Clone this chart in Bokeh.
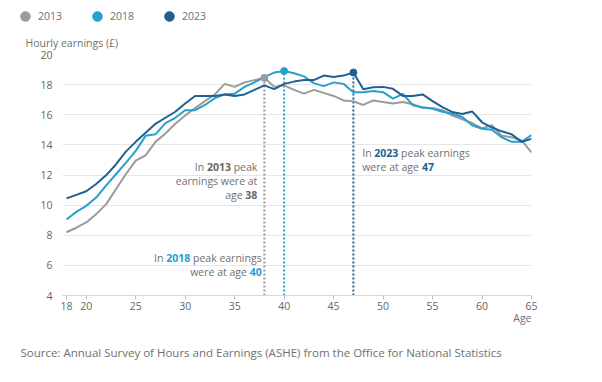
from bokeh.plotting import figure
from bokeh.layouts import column, row
from bokeh.models import Range1d, FixedTicker, Label, Legend, LegendItem, ColumnDataSource, Title
from bokeh.embed import file_html
from bokeh.resources import INLINE

# ---------------- data ----------------
ages = list(range(18, 66))
earn_2013 = [8.2, 8.5, 8.85, 9.4, 10.05, 11.05, 12.05, 12.95, 13.3, 14.2, 14.75, 15.4,
             15.95, 16.45, 16.9, 17.35, 18.05, 17.85, 18.15, 18.3, 18.45, 17.85, 17.95, 17.65,
             17.4, 17.65, 17.45, 17.25, 16.95, 16.9, 16.65, 16.95, 16.85, 16.75, 16.85, 16.7,
             16.45, 16.45, 16.3, 15.95, 15.7, 15.45, 15.1, 15.3, 14.6, 14.5, 14.3, 13.5]
earn_2018 = [9.05, 9.55, 9.95, 10.5, 11.3, 12.05, 12.8, 13.6, 14.6, 14.7, 15.45, 15.8,
             16.3, 16.3, 16.65, 17.1, 17.35, 17.4, 17.85, 18.15, 18.5, 18.8, 18.9, 18.75,
             18.55, 18.1, 17.9, 18.15, 18.05, 17.5, 17.5, 17.58, 17.5, 17.07, 17.38, 16.63,
             16.5, 16.4, 16.2, 16.07, 15.85, 15.3, 15.07, 15.0, 14.5, 14.2, 14.2, 14.65]
earn_2023 = [10.45, 10.68, 10.92, 11.4, 11.98, 12.7, 13.55, 14.2, 14.8, 15.4, 15.8, 16.2,
             16.75, 17.25, 17.25, 17.25, 17.35, 17.25, 17.35, 17.65, 17.95, 17.7, 18.05, 18.2,
             18.3, 18.3, 18.6, 18.5, 18.6, 18.8, 17.7, 17.82, 17.85, 17.72, 17.25, 17.25,
             17.35, 16.9, 16.5, 16.18, 16.05, 16.22, 15.5, 15.15, 14.9, 14.7, 14.2, 14.4]
years = ["2013", "2018", "2023"]
peak_ages = [38, 40, 47]
x_ticks = [18, 20, 25, 30, 35, 40, 45, 50, 55, 60, 65]
y_ticks = [4, 6, 8, 10, 12, 14, 16, 18, 20]

series = [earn_2013, earn_2018, earn_2023]
colors = ["#9b9b9b", "#27a0cc", "#206095"]
FONT = "Open Sans"
TXT = "#707070"
FS = "10.5px"
W = 586

peak_vals = [s[ages.index(a)] for s, a in zip(series, peak_ages)]

# ---------------- legend strip (own figure, no axes) ----------------
leg = figure(width=W, height=28, output_backend="svg", toolbar_location=None,
             x_range=Range1d(0, 1), y_range=Range1d(0, 1),
             x_axis_location=None, y_axis_location=None,
             min_border=0, min_border_left=0, min_border_right=0,
             min_border_top=0, min_border_bottom=0)
leg.grid.visible = False
leg.outline_line_color = None
leg.border_fill_color = "white"
items = []
for a, v, c, yr in zip(peak_ages, peak_vals, colors, years):
    # peak point used only as the legend's marker template (outside this strip's range)
    r = leg.scatter(x=[a], y=[v], size=7, fill_color=c, line_color=c)
    items.append(LegendItem(label=yr, renderers=[r]))
legend = Legend(items=items, orientation="horizontal", location=(13, 0),
                glyph_width=24, glyph_height=24, label_standoff=1, spacing=23,
                padding=0, margin=0, border_line_color=None, background_fill_alpha=0,
                label_text_font=FONT, label_text_font_size=FS, label_text_color=TXT)
leg.add_layout(legend)

# ---------------- main chart ----------------
p = figure(width=W, height=353, output_backend="svg", toolbar_location=None,
           x_range=Range1d(17.6, 65), y_range=Range1d(y_ticks[0], y_ticks[-1]),
           min_border_left=62, min_border_right=55, min_border_top=26, min_border_bottom=86)
p.outline_line_color = None
p.background_fill_color = "white"
p.border_fill_color = "white"

p.xaxis.ticker = FixedTicker(ticks=x_ticks)
p.yaxis.ticker = FixedTicker(ticks=y_ticks)
p.xaxis.axis_line_color = "#d9d9d9"
p.xaxis.major_tick_line_color = "#bdbdbd"
p.xaxis.major_tick_out = 4
p.xaxis.major_tick_in = 0
p.xaxis.minor_tick_line_color = None
p.xaxis.major_label_standoff = 2
p.yaxis.axis_line_color = None
p.yaxis.major_tick_line_color = None
p.yaxis.minor_tick_line_color = None
p.yaxis.major_label_standoff = 4
for ax in (p.xaxis, p.yaxis):
    ax.major_label_text_font = FONT
    ax.major_label_text_font_size = FS
    ax.major_label_text_color = "#666666"
p.xgrid.grid_line_color = None
p.ygrid.grid_line_color = "#e6e6e6"

# peak dotted lines
seg_src = ColumnDataSource(dict(x=peak_ages, y0=[y_ticks[0]] * 3, y1=peak_vals, c=colors))
p.segment(x0="x", y0="y0", x1="x", y1="y1", line_color="c", line_width=2,
          line_dash="2 2", source=seg_src)

# lines
for s, c in zip(series, colors):
    p.line(ages, s, line_color=c, line_width=2)

# peak markers
p.scatter(peak_ages, peak_vals, size=7, fill_color=colors, line_color=colors)


def lab(x, y, text, xo=0, yo=0, align="left", size=FS, color=TXT, bold=False):
    p.add_layout(Label(x=x, y=y, x_offset=xo, y_offset=yo, text=text, text_align=align,
                       text_baseline="middle", text_font=FONT, text_font_size=size,
                       text_color=color, text_font_style="bold" if bold else "normal"))


EM = 10.5
W_SPACE = 0.26 * EM
W_DIG = 0.572 * EM
W_PEAK = 2.255 * EM
W_PEAK_EARN = 6.547 * EM
W_IN = 0.893 * EM
W_WEREATAGE = 5.428 * EM

# 2013 annotation (right aligned)
xo = -7
lab(38, 12.53, "peak", xo, align="right")
lab(38, 12.53, "2013", xo - W_PEAK - W_SPACE, align="right", color="#666666", bold=True)
lab(38, 12.53, "In", xo - W_PEAK - 2 * W_SPACE - 4 * W_DIG, align="right")
lab(38, 11.6, "earnings were at", xo, align="right")
lab(38, 10.65, "38", xo, align="right", color="#666666", bold=True)
lab(38, 10.65, "age", xo - 2 * W_DIG - W_SPACE, align="right")

# 2018 annotation (right aligned)
xo = -2.7
lab(38, 6.51, "peak earnings", xo, align="right")
lab(38, 6.51, "2018", xo - W_PEAK_EARN - W_SPACE, align="right", color=colors[1], bold=True)
lab(38, 6.51, "In", xo - W_PEAK_EARN - 2 * W_SPACE - 4 * W_DIG, align="right")
lab(38, 5.55, "40", xo, align="right", color=colors[1], bold=True)
lab(38, 5.55, "were at age", xo - 2 * W_DIG - W_SPACE, align="right")

# 2023 annotation (left aligned)
xo = 8.8
lab(47, 13.49, "In", xo)
lab(47, 13.49, "2023", xo + W_IN + W_SPACE, color=colors[2], bold=True)
lab(47, 13.49, "peak earnings", xo + W_IN + 2 * W_SPACE + 4 * W_DIG)
lab(47, 12.53, "were at age", xo)
lab(47, 12.53, "47", xo + W_WEREATAGE + W_SPACE, color=colors[2], bold=True)


def title(text, place, align, offset, standoff, size=FS):
    p.add_layout(Title(text=text, align=align, offset=offset, standoff=standoff,
                       text_font=FONT, text_font_size=size, text_color=TXT,
                       text_font_style="normal"), place)


title("Hourly earnings (£)", "above", "left", -37, 9)
title("Age", "below", "right", 0, -7)
title("Source: Annual Survey of Hours and Earnings (ASHE) from the Office for National Statistics",
      "below", "left", -42, 43, size="11.5px")

layout = column(leg, row(p), spacing=0)
open("out.html", "w").write(file_html(layout, INLINE))
